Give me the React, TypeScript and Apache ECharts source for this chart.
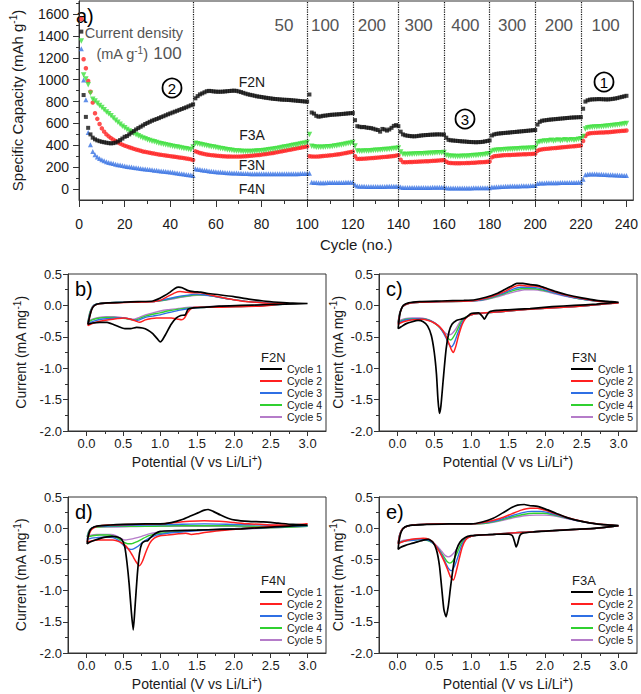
import React, { useEffect, useRef } from "react";
import * as echarts from "echarts";

// ---------- Panel a: specific capacity vs cycle (cycles 1..240) ----------
const capF2N = [
  1440, 860, 660, 560, 500, 470, 455, 445, 438, 432,
  428, 424, 420, 418, 420, 425, 435, 448, 462, 478,
  485, 500, 515, 530, 545, 558, 570, 582, 595, 605,
  615, 625, 633, 641, 649, 658, 666, 675, 684, 692,
  700, 708, 716, 724, 732, 740, 748, 757, 766, 775,
  830, 850, 866, 875, 885, 895, 898, 896, 893, 891,
  890, 890, 891, 893, 895, 897, 899, 900, 898, 893,
  887, 880, 873, 867, 862, 858, 853, 848, 845, 842,
  838, 835, 832, 829, 826, 824, 822, 820, 818, 817,
  816, 815, 813, 811, 809, 807, 805, 803, 801, 800,
  865, 700, 690, 670, 662, 665, 670, 672, 675, 678,
  680, 681, 683, 684, 686, 688, 690, 692, 694, 695,
  630, 575, 570, 566, 568, 562, 560, 557, 552, 545,
  540, 525, 550, 545, 535, 545, 560, 578, 585, 575,
  525, 500, 492, 488, 485, 483, 482, 484, 487, 490,
  492, 494, 495, 497, 498, 499, 500, 500, 499, 498,
  470, 450, 446, 444, 442, 440, 438, 436, 435, 433,
  431, 430, 429, 428, 429, 430, 432, 436, 440, 445,
  490, 500, 505, 508, 510, 512, 514, 516, 518, 520,
  522, 524, 526, 528, 530, 532, 534, 536, 538, 540,
  590, 615, 625, 628, 631, 634, 636, 638, 640, 642,
  644, 646, 648, 650, 652, 654, 655, 656, 657, 658,
  735, 800, 812, 818, 820, 821, 822, 823, 822, 821,
  820, 820, 822, 825, 828, 832, 838, 843, 848, 853,
];
const capF3N = [
  1555, 1187, 1105, 989, 890, 791, 694, 642, 595, 555,
  525, 500, 482, 466, 452, 440, 428, 416, 406, 397,
  390, 382, 375, 368, 362, 356, 350, 344, 340, 336,
  332, 328, 324, 320, 316, 313, 310, 307, 304, 301,
  298, 295, 292, 289, 286, 283, 280, 276, 272, 266,
  345, 338, 330, 325, 320, 316, 313, 310, 308, 306,
  304, 302, 300, 299, 298, 298, 297, 297, 297, 297,
  298, 299, 300, 302, 304, 306, 308, 310, 312, 315,
  318, 321, 324, 327, 330, 334, 338, 342, 346, 350,
  354, 358, 362, 366, 370, 374, 378, 382, 386, 390,
  300, 298, 297, 297, 298, 300, 302, 304, 306, 308,
  310, 313, 316, 319, 322, 326, 330, 334, 338, 342,
  300, 276, 276, 277, 278, 280, 281, 283, 284, 286,
  288, 290, 292, 294, 296, 298, 300, 303, 306, 310,
  268, 246, 245, 246, 247, 248, 249, 250, 251, 252,
  253, 254, 255, 256, 258, 259, 260, 262, 264, 266,
  250, 240, 238, 237, 236, 236, 236, 237, 237, 238,
  239, 240, 241, 242, 244, 245, 246, 248, 250, 252,
  290, 300, 303, 305, 307, 309, 310, 311, 312, 313,
  314, 315, 316, 317, 318, 319, 320, 321, 322, 324,
  350, 360, 363, 366, 368, 370, 372, 374, 376, 378,
  380, 382, 384, 386, 388, 390, 392, 394, 396, 398,
  440, 485, 505, 510, 512, 514, 515, 516, 517, 518,
  519, 520, 522, 524, 526, 528, 530, 532, 534, 536,
];
const capF3A = [
  1354, 1044, 1007, 953, 877, 822, 805, 785, 765, 745,
  725, 705, 688, 670, 650, 630, 610, 592, 575, 560,
  545, 532, 520, 508, 497, 487, 477, 468, 460, 452,
  445, 438, 432, 426, 420, 415, 410, 405, 400, 396,
  392, 388, 384, 380, 376, 372, 368, 364, 360, 385,
  420, 415, 410, 405, 400, 396, 392, 388, 384, 380,
  376, 372, 368, 364, 360, 357, 354, 351, 349, 347,
  345, 344, 343, 343, 343, 344, 345, 347, 349, 351,
  353, 356, 359, 362, 365, 368, 372, 376, 380, 384,
  388, 392, 396, 400, 404, 408, 412, 416, 420, 425,
  500, 392, 386, 383, 382, 382, 383, 384, 386, 388,
  390, 393, 396, 400, 404, 408, 412, 416, 420, 425,
  395, 348, 346, 346, 347, 348, 349, 351, 352, 354,
  356, 357, 359, 361, 363, 365, 367, 370, 372, 375,
  340, 318, 315, 316, 318, 319, 320, 321, 322, 323,
  324, 325, 326, 327, 328, 330, 331, 332, 333, 335,
  310, 302, 300, 299, 298, 298, 298, 299, 300, 301,
  302, 304, 306, 308, 310, 312, 314, 317, 320, 323,
  345, 352, 355, 357, 358, 360, 361, 362, 364, 365,
  366, 367, 369, 370, 371, 372, 373, 374, 376, 378,
  420, 432, 436, 440, 438, 442, 446, 440, 444, 448,
  442, 446, 450, 445, 448, 452, 447, 450, 455, 460,
  480, 550, 560, 563, 565, 567, 568, 570, 571, 573,
  575, 577, 579, 581, 583, 586, 589, 592, 596, 600,
];
const capF4N = [
  1284, 998, 816, 517, 405, 344, 314, 293, 280, 268,
  258, 250, 243, 238, 233, 228, 223, 219, 215, 211,
  207, 204, 201, 198, 195, 192, 189, 186, 183, 181,
  178, 176, 173, 171, 168, 166, 163, 161, 159, 157,
  153, 149, 146, 143, 140, 137, 134, 131, 128, 125,
  186, 182, 178, 175, 172, 169, 166, 163, 161, 159,
  157, 155, 153, 151, 150, 149, 148, 147, 146, 145,
  144, 143, 142, 142, 141, 141, 140, 140, 140, 140,
  139, 139, 139, 139, 139, 139, 139, 140, 140, 140,
  140, 140, 140, 141, 141, 141, 142, 142, 143, 143,
  145, 62, 60, 59, 58, 58, 58, 58, 59, 59,
  59, 60, 60, 60, 61, 61, 62, 62, 63, 63,
  40, 27, 26, 25, 25, 24, 24, 24, 24, 24,
  24, 24, 24, 24, 25, 25, 25, 25, 26, 26,
  18, 15, 14, 14, 14, 14, 14, 14, 15, 15,
  15, 15, 15, 15, 16, 16, 16, 16, 16, 17,
  12, 10, 10, 10, 10, 10, 10, 10, 10, 10,
  10, 10, 11, 11, 11, 11, 11, 12, 12, 12,
  18, 20, 21, 22, 23, 24, 25, 26, 27, 28,
  28, 29, 29, 30, 30, 31, 31, 32, 32, 33,
  52, 55, 56, 56, 57, 57, 57, 58, 58, 58,
  59, 59, 59, 60, 60, 60, 61, 61, 62, 62,
  90, 130, 136, 138, 138, 137, 137, 136, 135, 134,
  133, 132, 131, 130, 129, 128, 127, 126, 125, 124,
];
const rateBoundaries = [50, 100, 120, 140, 160, 180, 200, 220];
const rateLabels = ["50", "100", "200", "300", "400", "300", "200", "100"];
const rateLabelCycles = [92.4, 110, 130, 150, 170, 190, 210, 230];
const cycleTicks = [0, 20, 40, 60, 80, 100, 120, 140, 160, 180, 200, 220, 240];
const cycleMinorTicks = [10, 30, 50, 70, 90, 110, 130, 150, 170, 190, 210, 230];
const capacityTicks = [0, 200, 400, 600, 800, 1000, 1200, 1400, 1600];
const capacityMinorTicks = [100, 300, 500, 700, 900, 1100, 1300, 1500, 1700];

// ---------- CV panels: [potential V, current mA/mg] ----------
const f2nC1 = [[3.0,0.03],[2.7,0.02],[2.4,0.01],[2.1,0.0],[1.8,-0.01],[1.6,-0.03],[1.45,-0.04],[1.38,-0.06],[1.34,-0.15],[1.28,-0.16],[1.22,-0.2],[1.15,-0.3],[1.08,-0.45],[1.03,-0.55],[1.0,-0.58],[0.96,-0.53],[0.9,-0.45],[0.83,-0.39],[0.76,-0.36],[0.68,-0.35],[0.6,-0.37],[0.52,-0.37],[0.44,-0.34],[0.36,-0.3],[0.28,-0.27],[0.18,-0.27],[0.08,-0.28],[0.02,-0.3],[0.04,-0.2],[0.07,-0.07],[0.11,0.0],[0.18,0.03],[0.3,0.04],[0.5,0.05],[0.7,0.06],[0.9,0.07],[0.97,0.1],[1.05,0.15],[1.12,0.2],[1.2,0.27],[1.25,0.29],[1.3,0.28],[1.37,0.24],[1.45,0.22],[1.55,0.21],[1.65,0.19],[1.8,0.17],[2.0,0.14],[2.2,0.1],[2.4,0.07],[2.6,0.05],[2.8,0.035],[3.0,0.03]];
const f2nC2 = [[2.7,0.03],[2.4,-0.01],[2.1,-0.02],[1.8,-0.03],[1.5,-0.03],[1.42,-0.05],[1.37,-0.12],[1.33,-0.2],[1.29,-0.23],[1.24,-0.22],[1.15,-0.2],[1.05,-0.2],[0.95,-0.2],[0.88,-0.21],[0.8,-0.23],[0.72,-0.27],[0.67,-0.25],[0.6,-0.22],[0.5,-0.2],[0.42,-0.21],[0.3,-0.23],[0.2,-0.25],[0.1,-0.28],[0.02,-0.32],[0.05,-0.15],[0.09,-0.02],[0.15,0.02],[0.3,0.04],[0.6,0.05],[0.9,0.06],[1.0,0.08],[1.1,0.14],[1.2,0.2],[1.27,0.22],[1.35,0.21],[1.45,0.2],[1.55,0.2],[1.7,0.16],[1.9,0.11],[2.1,0.07],[2.3,0.05],[2.5,0.03],[2.7,0.03]];
const f2nC3 = [[2.7,0.02],[2.3,-0.01],[1.9,-0.02],[1.6,-0.03],[1.4,-0.05],[1.25,-0.08],[1.1,-0.12],[1.0,-0.15],[0.9,-0.17],[0.8,-0.19],[0.72,-0.23],[0.67,-0.24],[0.6,-0.22],[0.5,-0.2],[0.4,-0.2],[0.3,-0.21],[0.2,-0.22],[0.1,-0.25],[0.02,-0.29],[0.05,-0.12],[0.1,0.0],[0.2,0.03],[0.5,0.05],[0.9,0.06],[1.05,0.09],[1.2,0.13],[1.35,0.16],[1.5,0.18],[1.6,0.17],[1.75,0.14],[1.95,0.1],[2.2,0.06],[2.45,0.04],[2.7,0.02]];
const f2nC4 = [[2.7,0.02],[2.3,-0.01],[1.9,-0.02],[1.6,-0.03],[1.4,-0.04],[1.25,-0.06],[1.1,-0.09],[1.0,-0.12],[0.9,-0.14],[0.8,-0.17],[0.72,-0.21],[0.66,-0.23],[0.58,-0.22],[0.48,-0.2],[0.38,-0.19],[0.28,-0.19],[0.18,-0.2],[0.08,-0.23],[0.02,-0.27],[0.05,-0.1],[0.1,0.0],[0.2,0.03],[0.5,0.05],[0.9,0.06],[1.05,0.08],[1.2,0.12],[1.35,0.15],[1.5,0.17],[1.6,0.17],[1.75,0.14],[1.95,0.1],[2.2,0.06],[2.45,0.04],[2.7,0.02]];
const f2nC5 = [[2.7,0.02],[2.3,0.0],[1.9,-0.01],[1.6,-0.02],[1.4,-0.03],[1.25,-0.05],[1.1,-0.07],[1.0,-0.09],[0.9,-0.12],[0.8,-0.15],[0.72,-0.19],[0.65,-0.22],[0.57,-0.21],[0.47,-0.19],[0.37,-0.18],[0.27,-0.18],[0.17,-0.19],[0.08,-0.22],[0.02,-0.26],[0.05,-0.1],[0.1,0.0],[0.2,0.03],[0.5,0.05],[0.9,0.06],[1.05,0.08],[1.2,0.11],[1.35,0.14],[1.5,0.16],[1.6,0.16],[1.75,0.14],[1.95,0.1],[2.2,0.06],[2.45,0.04],[2.7,0.02]];

const f3nC1 = [[3.0,0.05],[2.7,0.02],[2.4,0.0],[2.1,-0.02],[1.8,-0.05],[1.5,-0.07],[1.35,-0.08],[1.25,-0.1],[1.21,-0.16],[1.18,-0.22],[1.15,-0.17],[1.1,-0.12],[1.0,-0.13],[0.92,-0.2],[0.86,-0.22],[0.8,-0.24],[0.74,-0.3],[0.7,-0.42],[0.66,-0.7],[0.62,-1.2],[0.59,-1.6],[0.57,-1.72],[0.55,-1.5],[0.53,-1.1],[0.5,-0.75],[0.46,-0.48],[0.41,-0.33],[0.35,-0.26],[0.28,-0.24],[0.2,-0.26],[0.12,-0.29],[0.05,-0.34],[0.01,-0.37],[0.02,-0.25],[0.04,-0.1],[0.08,0.0],[0.15,0.04],[0.3,0.06],[0.6,0.07],[0.9,0.08],[1.05,0.09],[1.2,0.13],[1.35,0.19],[1.45,0.25],[1.55,0.31],[1.62,0.35],[1.7,0.35],[1.8,0.33],[1.9,0.32],[2.0,0.28],[2.15,0.22],[2.3,0.17],[2.5,0.12],[2.7,0.08],[2.9,0.06],[3.0,0.05]];
const f3nC2 = [[3.0,0.04],[2.7,0.01],[2.4,-0.02],[2.1,-0.04],[1.8,-0.06],[1.5,-0.09],[1.3,-0.11],[1.1,-0.13],[1.0,-0.15],[0.93,-0.2],[0.88,-0.3],[0.83,-0.48],[0.79,-0.66],[0.76,-0.75],[0.73,-0.7],[0.69,-0.58],[0.64,-0.45],[0.58,-0.35],[0.5,-0.28],[0.42,-0.24],[0.33,-0.22],[0.22,-0.23],[0.12,-0.25],[0.04,-0.28],[0.01,-0.3],[0.03,-0.15],[0.07,-0.02],[0.15,0.03],[0.3,0.05],[0.6,0.06],[1.0,0.07],[1.15,0.1],[1.3,0.15],[1.45,0.22],[1.55,0.28],[1.65,0.32],[1.75,0.31],[1.85,0.31],[1.95,0.29],[2.1,0.23],[2.3,0.16],[2.5,0.11],[2.7,0.07],[2.9,0.05],[3.0,0.04]];
const f3nC3 = [[3.0,0.04],[2.7,0.01],[2.4,-0.02],[2.1,-0.04],[1.8,-0.06],[1.5,-0.09],[1.3,-0.11],[1.1,-0.13],[1.0,-0.15],[0.92,-0.2],[0.87,-0.29],[0.82,-0.44],[0.77,-0.6],[0.73,-0.66],[0.7,-0.62],[0.66,-0.52],[0.61,-0.41],[0.55,-0.32],[0.47,-0.26],[0.38,-0.22],[0.28,-0.21],[0.18,-0.22],[0.09,-0.24],[0.01,-0.28],[0.03,-0.14],[0.07,-0.02],[0.15,0.03],[0.3,0.05],[0.6,0.06],[1.0,0.07],[1.15,0.09],[1.3,0.14],[1.45,0.2],[1.57,0.26],[1.67,0.29],[1.78,0.29],[1.9,0.28],[2.05,0.23],[2.25,0.16],[2.5,0.1],[2.7,0.07],[2.9,0.05],[3.0,0.04]];
const f3nC4 = [[3.0,0.04],[2.7,0.01],[2.4,-0.02],[2.1,-0.04],[1.8,-0.06],[1.5,-0.09],[1.3,-0.11],[1.1,-0.13],[1.0,-0.15],[0.92,-0.19],[0.86,-0.27],[0.8,-0.42],[0.75,-0.52],[0.72,-0.55],[0.68,-0.52],[0.63,-0.44],[0.57,-0.35],[0.5,-0.28],[0.42,-0.23],[0.32,-0.21],[0.22,-0.21],[0.12,-0.22],[0.04,-0.25],[0.01,-0.27],[0.03,-0.13],[0.07,-0.02],[0.15,0.03],[0.3,0.05],[0.6,0.06],[1.0,0.07],[1.15,0.09],[1.3,0.13],[1.45,0.19],[1.58,0.24],[1.7,0.27],[1.82,0.27],[1.95,0.25],[2.1,0.21],[2.3,0.15],[2.5,0.1],[2.7,0.07],[2.9,0.05],[3.0,0.04]];
const f3nC5 = [[3.0,0.04],[2.7,0.01],[2.4,-0.02],[2.1,-0.04],[1.8,-0.06],[1.5,-0.09],[1.3,-0.11],[1.1,-0.13],[1.0,-0.15],[0.92,-0.19],[0.85,-0.26],[0.79,-0.38],[0.74,-0.45],[0.7,-0.47],[0.66,-0.45],[0.61,-0.39],[0.55,-0.32],[0.48,-0.26],[0.4,-0.22],[0.3,-0.2],[0.2,-0.2],[0.1,-0.21],[0.03,-0.24],[0.01,-0.26],[0.03,-0.12],[0.07,-0.02],[0.15,0.03],[0.3,0.05],[0.6,0.06],[1.0,0.07],[1.15,0.08],[1.3,0.12],[1.45,0.17],[1.6,0.22],[1.72,0.25],[1.85,0.25],[1.98,0.23],[2.12,0.19],[2.3,0.14],[2.5,0.1],[2.7,0.07],[2.9,0.05],[3.0,0.04]];

const f4nC1 = [[3.0,0.05],[2.7,0.03],[2.4,0.01],[2.1,-0.01],[1.8,-0.02],[1.5,-0.03],[1.2,-0.04],[1.0,-0.05],[0.93,-0.09],[0.87,-0.15],[0.83,-0.2],[0.79,-0.21],[0.75,-0.25],[0.72,-0.4],[0.69,-0.75],[0.66,-1.25],[0.635,-1.63],[0.61,-1.35],[0.58,-0.9],[0.55,-0.55],[0.52,-0.3],[0.48,-0.18],[0.42,-0.14],[0.35,-0.13],[0.28,-0.14],[0.2,-0.16],[0.12,-0.19],[0.05,-0.22],[0.01,-0.25],[0.02,-0.15],[0.05,-0.03],[0.1,0.02],[0.2,0.04],[0.5,0.06],[0.8,0.07],[1.0,0.07],[1.15,0.09],[1.3,0.14],[1.42,0.2],[1.52,0.25],[1.6,0.29],[1.65,0.3],[1.72,0.27],[1.82,0.21],[1.92,0.16],[2.02,0.13],[2.2,0.11],[2.4,0.1],[2.6,0.08],[2.8,0.06],[3.0,0.05]];
const f4nC2 = [[3.0,0.07],[2.7,0.04],[2.4,0.02],[2.1,-0.01],[1.8,-0.04],[1.6,-0.07],[1.5,-0.09],[1.42,-0.1],[1.35,-0.08],[1.25,-0.09],[1.1,-0.11],[1.0,-0.12],[0.92,-0.16],[0.86,-0.24],[0.8,-0.4],[0.76,-0.53],[0.72,-0.6],[0.68,-0.55],[0.64,-0.47],[0.59,-0.37],[0.53,-0.28],[0.45,-0.22],[0.36,-0.19],[0.26,-0.19],[0.16,-0.19],[0.08,-0.2],[0.01,-0.22],[0.03,-0.12],[0.07,-0.02],[0.15,0.03],[0.3,0.05],[0.6,0.06],[1.0,0.07],[1.2,0.09],[1.4,0.11],[1.6,0.12],[1.8,0.11],[2.0,0.09],[2.2,0.07],[2.4,0.06],[2.6,0.05],[2.8,0.05],[3.0,0.07]];
const f4nC3 = [[3.0,0.04],[2.6,0.02],[2.2,0.0],[1.8,-0.02],[1.5,-0.04],[1.3,-0.06],[1.1,-0.08],[0.95,-0.11],[0.85,-0.16],[0.77,-0.22],[0.7,-0.29],[0.64,-0.33],[0.6,-0.34],[0.55,-0.32],[0.5,-0.27],[0.44,-0.2],[0.36,-0.15],[0.26,-0.14],[0.16,-0.15],[0.07,-0.16],[0.01,-0.18],[0.03,-0.08],[0.07,0.0],[0.15,0.03],[0.4,0.04],[0.8,0.05],[1.2,0.06],[1.6,0.07],[2.0,0.06],[2.4,0.05],[2.7,0.04],[3.0,0.04]];
const f4nC4 = [[3.0,0.03],[2.6,0.01],[2.2,0.0],[1.8,-0.02],[1.5,-0.03],[1.3,-0.05],[1.1,-0.07],[0.95,-0.09],[0.85,-0.12],[0.76,-0.17],[0.68,-0.22],[0.61,-0.25],[0.56,-0.25],[0.5,-0.22],[0.44,-0.17],[0.37,-0.13],[0.28,-0.11],[0.18,-0.11],[0.08,-0.12],[0.01,-0.14],[0.03,-0.06],[0.07,0.0],[0.15,0.02],[0.4,0.03],[0.8,0.03],[1.2,0.04],[1.6,0.04],[2.0,0.04],[2.4,0.03],[2.7,0.03],[3.0,0.03]];
const f4nC5 = [[3.0,0.03],[2.6,0.01],[2.2,-0.01],[1.8,-0.02],[1.5,-0.03],[1.3,-0.04],[1.1,-0.05],[0.95,-0.07],[0.85,-0.09],[0.75,-0.13],[0.66,-0.16],[0.58,-0.18],[0.52,-0.19],[0.46,-0.16],[0.4,-0.12],[0.33,-0.1],[0.24,-0.1],[0.14,-0.1],[0.06,-0.11],[0.01,-0.13],[0.03,-0.05],[0.07,0.0],[0.15,0.02],[0.4,0.02],[0.8,0.03],[1.2,0.03],[1.6,0.03],[2.0,0.03],[2.4,0.02],[2.7,0.02],[3.0,0.03]];

const f3aC1 = [[3.0,0.04],[2.7,0.0],[2.4,-0.02],[2.1,-0.04],[1.85,-0.06],[1.7,-0.08],[1.66,-0.12],[1.63,-0.25],[1.61,-0.3],[1.59,-0.22],[1.56,-0.12],[1.5,-0.09],[1.3,-0.1],[1.1,-0.11],[1.0,-0.12],[0.92,-0.15],[0.85,-0.22],[0.8,-0.35],[0.76,-0.6],[0.72,-0.95],[0.69,-1.25],[0.66,-1.42],[0.63,-1.3],[0.6,-0.95],[0.57,-0.6],[0.53,-0.35],[0.48,-0.22],[0.42,-0.18],[0.35,-0.19],[0.27,-0.22],[0.18,-0.25],[0.1,-0.28],[0.04,-0.31],[0.01,-0.34],[0.02,-0.22],[0.05,-0.06],[0.1,0.02],[0.2,0.05],[0.4,0.06],[0.7,0.07],[1.0,0.07],[1.15,0.1],[1.3,0.16],[1.45,0.26],[1.55,0.33],[1.63,0.37],[1.72,0.38],[1.8,0.36],[1.9,0.35],[2.0,0.31],[2.15,0.24],[2.3,0.17],[2.5,0.11],[2.7,0.07],[2.9,0.05],[3.0,0.04]];
const f3aC2 = [[3.0,0.04],[2.7,0.0],[2.4,-0.02],[2.1,-0.04],[1.8,-0.06],[1.5,-0.08],[1.3,-0.1],[1.1,-0.11],[1.0,-0.13],[0.93,-0.18],[0.88,-0.3],[0.84,-0.48],[0.8,-0.68],[0.76,-0.83],[0.72,-0.78],[0.68,-0.66],[0.63,-0.52],[0.57,-0.38],[0.5,-0.25],[0.43,-0.18],[0.35,-0.16],[0.25,-0.17],[0.15,-0.19],[0.06,-0.22],[0.01,-0.25],[0.03,-0.12],[0.07,-0.01],[0.15,0.04],[0.3,0.06],[0.6,0.07],[1.0,0.07],[1.2,0.1],[1.4,0.16],[1.55,0.23],[1.68,0.29],[1.8,0.32],[1.9,0.32],[2.0,0.29],[2.15,0.23],[2.3,0.17],[2.5,0.11],[2.7,0.07],[2.9,0.05],[3.0,0.04]];
const f3aC3 = [[3.0,0.04],[2.7,0.0],[2.4,-0.02],[2.1,-0.04],[1.8,-0.06],[1.5,-0.08],[1.3,-0.1],[1.1,-0.11],[1.0,-0.13],[0.92,-0.18],[0.87,-0.28],[0.82,-0.46],[0.77,-0.62],[0.73,-0.68],[0.69,-0.64],[0.64,-0.52],[0.58,-0.38],[0.51,-0.27],[0.43,-0.2],[0.34,-0.18],[0.24,-0.19],[0.14,-0.2],[0.06,-0.22],[0.01,-0.24],[0.03,-0.11],[0.07,-0.01],[0.15,0.04],[0.3,0.06],[0.6,0.07],[1.0,0.07],[1.2,0.09],[1.4,0.14],[1.55,0.2],[1.7,0.25],[1.82,0.27],[1.95,0.27],[2.08,0.24],[2.25,0.18],[2.45,0.12],[2.7,0.07],[2.9,0.05],[3.0,0.04]];
const f3aC4 = [[3.0,0.04],[2.7,0.0],[2.4,-0.02],[2.1,-0.04],[1.8,-0.06],[1.5,-0.08],[1.3,-0.1],[1.1,-0.11],[1.0,-0.13],[0.92,-0.17],[0.86,-0.26],[0.8,-0.42],[0.75,-0.53],[0.71,-0.56],[0.67,-0.53],[0.62,-0.44],[0.56,-0.34],[0.49,-0.25],[0.41,-0.2],[0.32,-0.18],[0.22,-0.19],[0.12,-0.2],[0.05,-0.22],[0.01,-0.24],[0.03,-0.11],[0.07,-0.01],[0.15,0.04],[0.3,0.06],[0.6,0.07],[1.0,0.07],[1.2,0.08],[1.4,0.13],[1.55,0.18],[1.7,0.22],[1.85,0.24],[1.98,0.24],[2.1,0.22],[2.27,0.17],[2.45,0.12],[2.7,0.07],[2.9,0.05],[3.0,0.04]];
const f3aC5 = [[3.0,0.04],[2.7,0.0],[2.4,-0.02],[2.1,-0.04],[1.8,-0.06],[1.5,-0.08],[1.3,-0.1],[1.1,-0.11],[1.0,-0.13],[0.92,-0.17],[0.85,-0.24],[0.79,-0.36],[0.73,-0.44],[0.69,-0.46],[0.65,-0.44],[0.6,-0.37],[0.54,-0.29],[0.47,-0.22],[0.39,-0.18],[0.3,-0.17],[0.2,-0.18],[0.11,-0.19],[0.04,-0.21],[0.01,-0.23],[0.03,-0.1],[0.07,-0.01],[0.15,0.04],[0.3,0.06],[0.6,0.07],[1.0,0.07],[1.2,0.08],[1.4,0.12],[1.55,0.16],[1.72,0.2],[1.88,0.21],[2.0,0.21],[2.12,0.2],[2.28,0.16],[2.45,0.12],[2.7,0.07],[2.9,0.05],[3.0,0.04]];

const cycleNames = ["Cycle 1", "Cycle 2", "Cycle 3", "Cycle 4", "Cycle 5"];
const potentialTicks = [0, 0.5, 1.0, 1.5, 2.0, 2.5, 3.0];
const potentialMinorTicks = [0.25, 0.75, 1.25, 1.75, 2.25, 2.75];

// ---------- styling / layout ----------
const FONT = "'Liberation Sans', Arial, Helvetica, sans-serif";
const TXT = "#1a1a1a";
const AXIS = "#333";
const GRAY = "#555";
const cycleColors = ["#000000", "#ff2020", "#2f6fe4", "#30d030", "#b57cc9"];
const cycleWidths = [1.7, 1.5, 1.4, 1.4, 1.4];

const A = { left: 68, top: 1, width: 568, height: 199, xMax: 243, yMin: -100, yMax: 1720 };
const cvPanels = [
  { label: "b)", title: "F2N", curves: [f2nC1, f2nC2, f2nC3, f2nC4, f2nC5], left: 68, top: 274, height: 157, nameGap: 38 },
  { label: "c)", title: "F3N", curves: [f3nC1, f3nC2, f3nC3, f3nC4, f3nC5], left: 379, top: 274, height: 157, nameGap: 30 },
  { label: "d)", title: "F4N", curves: [f4nC1, f4nC2, f4nC3, f4nC4, f4nC5], left: 68, top: 497, height: 156, nameGap: 38 },
  { label: "e)", title: "F3A", curves: [f3aC1, f3aC2, f3aC3, f3aC4, f3aC5], left: 379, top: 497, height: 156, nameGap: 31 },
];
const CV_W = 258;

const sup = (size: number) => ({
  sup: { fontSize: size, lineHeight: size, verticalAlign: "top", fontFamily: FONT, color: TXT },
});

function buildOption() {
  const grid: any[] = [];
  const xAxis: any[] = [];
  const yAxis: any[] = [];
  const series: any[] = [];
  const legend: any[] = [];
  const graphic: any[] = [];

  // ---- panel a ----
  grid.push({ left: A.left, top: A.top, width: A.width, height: A.height, show: true, borderColor: AXIS, borderWidth: 1, containLabel: false });
  xAxis.push({
    gridIndex: 0, type: "value", min: 0, max: A.xMax, position: "bottom",
    axisLine: { show: true, onZero: false, lineStyle: { color: AXIS } },
    axisTick: { show: true, customValues: cycleTicks, length: 7, lineStyle: { color: AXIS } },
    axisLabel: { show: true, customValues: cycleTicks, formatter: (v: number) => String(v), fontSize: 14, color: TXT, margin: 17, fontFamily: FONT },
    splitLine: { show: false },
    name: "Cycle (no.)", nameLocation: "middle", nameGap: 37,
    nameTextStyle: { fontSize: 15, color: TXT, fontFamily: FONT },
  });
  xAxis.push({
    gridIndex: 0, type: "value", min: 0, max: A.xMax, position: "bottom",
    axisLine: { show: false, onZero: false },
    axisTick: { show: true, customValues: cycleMinorTicks, length: 4, lineStyle: { color: AXIS } },
    axisLabel: { show: false }, splitLine: { show: false },
  });
  yAxis.push({
    gridIndex: 0, type: "value", min: A.yMin, max: A.yMax, position: "left",
    axisLine: { show: true, onZero: false, lineStyle: { color: AXIS } },
    axisTick: { show: true, customValues: capacityTicks, length: 6, lineStyle: { color: AXIS } },
    axisLabel: { show: true, customValues: capacityTicks, formatter: (v: number) => String(v), fontSize: 14, color: TXT, margin: 10, fontFamily: FONT },
    splitLine: { show: false },
    name: "Specific Capacity (mAh g{sup|-1})", nameLocation: "middle", nameGap: 48,
    nameTextStyle: { fontSize: 15, lineHeight: 19, color: TXT, fontFamily: FONT, rich: sup(10) },
  });
  yAxis.push({
    gridIndex: 0, type: "value", min: A.yMin, max: A.yMax, position: "left",
    axisLine: { show: false, onZero: false },
    axisTick: { show: true, customValues: capacityMinorTicks, length: 3, lineStyle: { color: AXIS } },
    axisLabel: { show: false }, splitLine: { show: false },
  });

  const pts = (arr: number[]) => arr.map((v, i) => [i + 1, v]);
  const scatterBase = { type: "scatter", xAxisIndex: 0, yAxisIndex: 0, silent: true };
  series.push({
    ...scatterBase, name: "F4N", data: pts(capF4N), symbol: "triangle", symbolSize: 5,
    itemStyle: { color: "#3b74e4" },
    markLine: {
      silent: true, symbol: ["none", "none"], label: { show: false },
      lineStyle: { type: "dotted", color: "#111", width: 1.2 },
      data: rateBoundaries.map((c) => ({ xAxis: c })),
    },
  });
  series.push({ ...scatterBase, name: "F3N", data: pts(capF3N), symbol: "circle", symbolSize: 4.5, itemStyle: { color: "#ff2424" } });
  series.push({ ...scatterBase, name: "F3A", data: pts(capF3A), symbol: "path://M0,0L10,0L5,9Z", symbolSize: 5.5, itemStyle: { color: "#3ee03e" } });
  series.push({ ...scatterBase, name: "F2N", data: pts(capF2N), symbol: "rect", symbolSize: 4, itemStyle: { color: "#111" } });

  const ax = (c: number) => A.left + (c / A.xMax) * A.width;
  const txt = (text: string, x: number, y: number, size: number, fill: string, align = "center", extra: any = {}) => ({
    type: "text", x, y, silent: true,
    style: { text, fill, fontSize: size, fontFamily: FONT, align, verticalAlign: "middle", ...extra },
  });

  graphic.push(txt("a)", 76, 16, 20, "#000", "left"));
  graphic.push(txt("Current density", 183, 33, 14.5, GRAY, "right"));
  graphic.push(txt("(mA g{sup|-1})", 148, 54, 14.5, GRAY, "right", {
    lineHeight: 18, rich: { sup: { fontSize: 10, lineHeight: 10, verticalAlign: "top", fill: GRAY, fontFamily: FONT } },
  }));
  graphic.push(txt("100", 167.5, 53, 17, GRAY));
  rateLabels.forEach((t, i) => graphic.push(txt(t, ax(rateLabelCycles[i]), 25, 17, GRAY)));
  graphic.push(txt("F2N", 252, 82, 14, TXT));
  graphic.push(txt("F3A", 252, 135, 14, TXT));
  graphic.push(txt("F3N", 252, 165, 14, TXT));
  graphic.push(txt("F4N", 252, 189, 14, TXT));
  const circled = [["2", 172, 88], ["3", 465, 119], ["1", 604, 82]] as [string, number, number][];
  circled.forEach(([d, x, y]) => {
    graphic.push({ type: "circle", shape: { cx: x, cy: y, r: 9.5 }, style: { fill: "none", stroke: "#000", lineWidth: 1.8 }, silent: true });
    graphic.push(txt(d, x, y + 0.5, 15, "#000"));
  });

  // ---- CV panels ----
  cvPanels.forEach((p, k) => {
    const gi = k + 1;
    const xi = 2 + 2 * k;
    const yi = 2 + k;
    grid.push({ left: p.left, top: p.top, width: CV_W, height: p.height, show: true, borderColor: AXIS, borderWidth: 1 });
    xAxis.push({
      gridIndex: gi, type: "value", min: -0.25, max: 3.25, position: "bottom",
      axisLine: { show: true, onZero: false, lineStyle: { color: AXIS } },
      axisTick: { show: true, customValues: potentialTicks, length: 5, lineStyle: { color: AXIS } },
      axisLabel: { show: true, customValues: potentialTicks, formatter: (v: number) => v.toFixed(1), fontSize: 13, color: TXT, margin: 6, fontFamily: FONT },
      splitLine: { show: false },
      name: "Potential (V vs Li/Li{sup|+})", nameLocation: "middle", nameGap: 22,
      nameTextStyle: { fontSize: 14, lineHeight: 18, color: TXT, fontFamily: FONT, rich: sup(10) },
    });
    xAxis.push({
      gridIndex: gi, type: "value", min: -0.25, max: 3.25, position: "bottom",
      axisLine: { show: false, onZero: false },
      axisTick: { show: true, customValues: potentialMinorTicks, length: 3, lineStyle: { color: AXIS } },
      axisLabel: { show: false }, splitLine: { show: false },
    });
    yAxis.push({
      gridIndex: gi, type: "value", min: -2.0, max: 0.5, interval: 0.5, position: "left",
      axisLine: { show: true, onZero: false, lineStyle: { color: AXIS } },
      axisTick: { show: true, length: 5, lineStyle: { color: AXIS } },
      minorTick: { show: true, splitNumber: 2, length: 3, lineStyle: { color: AXIS } },
      axisLabel: { formatter: (v: number) => v.toFixed(1), fontSize: 13, color: TXT, margin: 6, fontFamily: FONT },
      splitLine: { show: false },
      name: "Current (mA mg{sup|-1})", nameLocation: "middle", nameGap: p.nameGap,
      nameTextStyle: { fontSize: 14, lineHeight: 18, color: TXT, fontFamily: FONT, rich: sup(10) },
    });
    for (let c = 4; c >= 0; c--) {
      series.push({
        type: "line", name: cycleNames[c], xAxisIndex: xi, yAxisIndex: yi,
        data: p.curves[c], showSymbol: false, symbol: "none", smooth: 0.2, silent: true,
        lineStyle: { color: cycleColors[c], width: cycleWidths[c] },
        itemStyle: { color: cycleColors[c] },
        z: 10 - c,
      });
    }
    legend.push({
      data: cycleNames, orient: "vertical", left: p.left + 192, top: p.top + 89,
      icon: "rect", itemWidth: 22, itemHeight: 2, itemGap: 0, padding: 0, selectedMode: false,
      textStyle: { fontSize: 10.5, lineHeight: 12, color: TXT, fontFamily: FONT },
    });
    graphic.push(txt(p.title, p.left + 193, p.top + 83, 13, TXT, "left"));
    graphic.push(txt(p.label, p.left + 7, p.top + 15, 20, "#000", "left"));
  });

  return {
    animation: false,
    backgroundColor: "#fff",
    textStyle: { fontFamily: FONT },
    grid, xAxis, yAxis, series, legend, graphic,
  };
}

export default function App() {
  const ref = useRef<HTMLDivElement>(null);
  useEffect(() => {
    if (!ref.current) return;
    const chart = echarts.init(ref.current, null, { renderer: "svg" });
    chart.setOption(buildOption() as any);
    return () => chart.dispose();
  }, []);
  return <div ref={ref} style={{ position: "absolute", left: 0, top: 0, width: 641, height: 694 }} />;
}
